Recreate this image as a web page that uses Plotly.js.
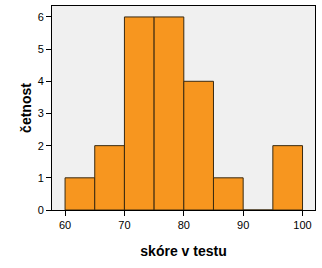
<!DOCTYPE html>
<html>
<head>
<meta charset="utf-8">
<script src="https://cdn.plot.ly/plotly-3.0.1.min.js"></script>
<style>html,body{margin:0;padding:0;background:#fff;}#chart{width:322px;height:268px;}</style>
</head>
<body>
<div id="chart"></div>
<script>
const binStarts = [60, 65, 70, 75, 80, 85, 90, 95];
const binWidth = 5;
const counts = [1, 2, 6, 6, 4, 1, 0, 2];
const xTicks = [60, 70, 80, 90, 100];
const yTicks = [0, 1, 2, 3, 4, 5, 6];
const xLabel = 'skóre v testu';
const yLabel = 'četnost';

const centers = binStarts.map(s => s + binWidth / 2);

Plotly.newPlot('chart', [{
  type: 'bar',
  x: centers,
  y: counts,
  width: binStarts.map(() => binWidth),
  marker: {color: '#f7961f', line: {color: '#3a2a10', width: 1}},
  hoverinfo: 'none'
}], {
  width: 322, height: 268,
  margin: {l: 52, r: 7, t: 6, b: 58},
  paper_bgcolor: '#ffffff',
  plot_bgcolor: '#f0f0f0',
  showlegend: false,
  bargap: 0,
  font: {family: 'Liberation Sans, Arial, sans-serif', size: 11, color: '#000'},
  xaxis: {
    range: [57.8, 102.1],
    tickvals: xTicks,
    ticktext: xTicks.map(String),
    ticks: 'outside', ticklen: 5, tickcolor: '#000', tickwidth: 1,
    showgrid: false, zeroline: false,
    showline: true, linecolor: '#000', linewidth: 1, mirror: true,
    tickfont: {size: 11},
    title: {text: '<b>' + xLabel + '</b>', font: {size: 14}, standoff: 15}
  },
  yaxis: {
    range: [0, 6.34],
    tickvals: yTicks,
    ticktext: yTicks.map(String),
    ticks: 'outside', ticklen: 5, tickcolor: '#000', tickwidth: 1,
    showgrid: false, zeroline: false,
    showline: true, linecolor: '#000', linewidth: 1, mirror: true,
    tickfont: {size: 11},
    title: {text: '<b>' + yLabel + '</b>', font: {size: 14}, standoff: 2}
  }
}, {staticPlot: true, displayModeBar: false});
</script>
</body>
</html>
